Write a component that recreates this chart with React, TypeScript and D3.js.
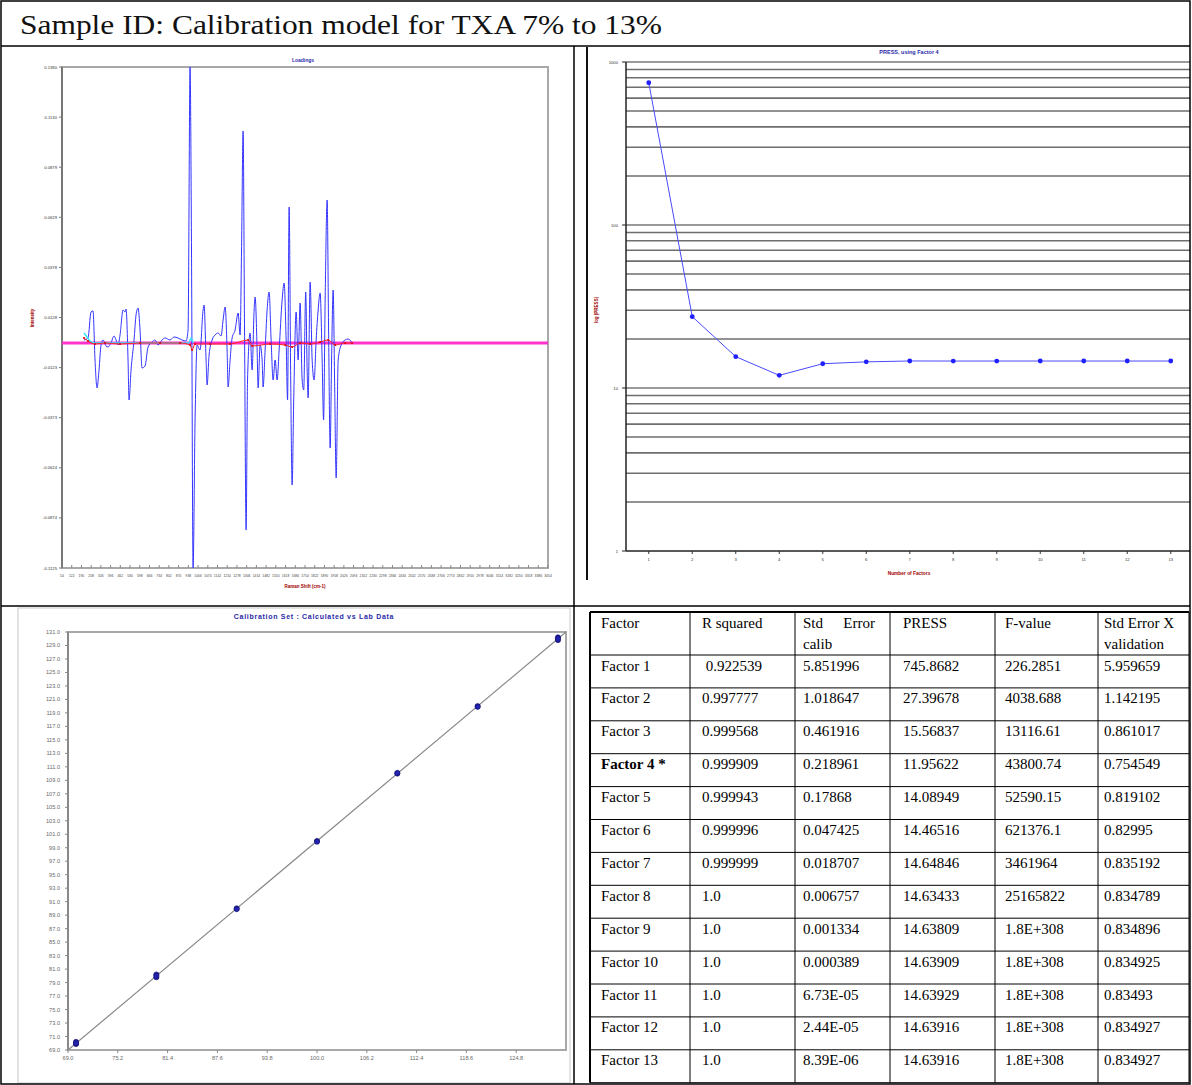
import React from 'react';
import * as d3 from 'd3';

const titleText = 'Sample ID: Calibration model for TXA 7% to 13%';

// ---------- Loadings (Raman shift, loading value) ----------
const blueLoading: [number, number][] = [
  [208,0.0015],[236,0.0025],[257,0.0155],[271,0.016],[285,-0.0085],[299,-0.0225],[313,-0.0135],[327,-0.001],[341,0.0015],[362,-0.0015],[376,-0.002],[397,0],[418,0.0035],[432,0.0015],[446,-0.001],[460,0.004],[481,0.0165],[495,0.0155],[502,0.017],[516,-0.0085],[523,-0.0285],[537,-0.0135],[558,0.0015],[572,0.014],[586,0.0175],[600,0.0065],[614,-0.0125],[635,-0.0115],[656,-0.002],[684,0.0005],[705,0.0015],[726,-0.001],[754,0.0015],[775,0.0025],[810,0.0015],[838,0.003],[866,0.0025],[894,0.0015],[922,0.001],[936,0.0065],[950,0.138],[960,0.0465],[971,-0.1125],[985,-0.0385],[999,-0.001],[1020,-0.0035],[1041,0.0165],[1048,0.019],[1062,-0.0085],[1069,-0.021],[1083,-0.006],[1104,0.0015],[1125,0.004],[1146,0.005],[1167,0.0035],[1181,0.0115],[1195,0.018],[1209,-0.0035],[1216,-0.022],[1230,-0.0085],[1244,0.0025],[1265,0.0065],[1286,0.015],[1300,0.004],[1310,0.0465],[1321,0.106],[1331,0.0065],[1342,-0.0935],[1352,-0.0185],[1370,0.005],[1384,-0.0135],[1398,0.0165],[1405,0.023],[1419,-0.0035],[1426,-0.0225],[1440,-0.001],[1454,-0.0085],[1461,-0.022],[1475,-0.0035],[1489,0.0165],[1503,0.0255],[1517,0.0015],[1531,-0.0185],[1545,-0.0085],[1559,-0.0185],[1573,-0.0035],[1594,0.0215],[1608,0.03],[1622,0.0015],[1632,-0.0285],[1643,0.068],[1654,-0.0185],[1664,-0.071],[1675,-0.0285],[1692,0.0155],[1706,-0.0085],[1720,0.02],[1734,-0.0185],[1745,-0.0235],[1759,0.0255],[1769,-0.0135],[1776,-0.0275],[1790,0.0305],[1804,-0.0085],[1818,-0.0185],[1832,0.0015],[1846,0.0165],[1860,0.025],[1874,-0.0085],[1884,-0.0385],[1895,0.0215],[1909,0.0715],[1919,0.0065],[1930,-0.0525],[1940,-0.0085],[1951,0.0265],[1961,-0.0185],[1972,-0.0675],[1986,-0.0085],[2007,-0.001],[2035,0.0015],[2056,0.002],[2084,0]
];
const redLoading: [number, number][] = [
  [208,0.0025],[236,0.001],[285,-0.0005],[355,0],[460,-0.0005],[600,0],[740,0],[880,0],[950,-0.001],[964,-0.0035],[985,-0.0005],[1090,-0.0005],[1230,-0.0005],[1356,0.0015],[1384,-0.0015],[1510,-0.0005],[1615,-0.001],[1664,-0.002],[1720,0],[1790,-0.0005],[1860,0.0005],[1916,0.0015],[1965,-0.001],[2035,0],[2084,0]
];
const cyanLoading: [number, number][] = [
  [208,0.005],[229,0.003],[250,0.001],[285,0],[940,0],[957,0.0025],[971,0]
];
const zeroLoading: [number, number][] = [[54,0],[3454,0]];
const ramanDomain: [number, number] = [54, 3454];
const loadingDomain: [number, number] = [-0.1125, 0.138];
const ramanTicks = d3.range(54, 3455, 68);

// ---------- PRESS ----------
const factorNumbers = d3.range(1, 14);
const pressValues = [745.8682, 27.39678, 15.56837, 11.95622, 14.08949, 14.46516, 14.64846, 14.63433, 14.63809, 14.63909, 14.63929, 14.63916, 14.63916];
const pressTickLabels = [1, 10, 100, 1000];

// ---------- Calibration ----------
const labValues = [70, 70, 70, 80, 80, 80, 90, 90, 100, 100, 110, 110, 120, 120, 130, 130, 130];
const calcValues = [69.9, 70.2, 70.0, 79.8, 80.2, 80.0, 90.0, 89.9, 100.0, 99.9, 110.0, 110.1, 120.0, 119.9, 129.8, 130.2, 130.0];
const calibDomain: [number, number] = [69, 131];
const calibYTicks = d3.range(69, 132, 2);
const calibXTicks = d3.range(0, 10).map(i => 69 + i * 6.2);

// ---------- Table ----------
const tableHeader1 = ['Factor', 'R squared', 'Std', 'PRESS', 'F-value', 'Std Error X'];
const tableHeader2 = ['', '', 'calib', '', '', 'validation'];
const tableRows: string[][] = [
  ['Factor 1', ' 0.922539', '5.851996', '745.8682', '226.2851', '5.959659'],
  ['Factor 2', '0.997777', '1.018647', '27.39678', '4038.688', '1.142195'],
  ['Factor 3', '0.999568', '0.461916', '15.56837', '13116.61', '0.861017'],
  ['Factor 4 *', '0.999909', '0.218961', '11.95622', '43800.74', '0.754549'],
  ['Factor 5', '0.999943', '0.17868', '14.08949', '52590.15', '0.819102'],
  ['Factor 6', '0.999996', '0.047425', '14.46516', '621376.1', '0.82995'],
  ['Factor 7', '0.999999', '0.018707', '14.64846', '3461964', '0.835192'],
  ['Factor 8', '1.0', '0.006757', '14.63433', '25165822', '0.834789'],
  ['Factor 9', '1.0', '0.001334', '14.63809', '1.8E+308', '0.834896'],
  ['Factor 10', '1.0', '0.000389', '14.63909', '1.8E+308', '0.834925'],
  ['Factor 11', '1.0', '6.73E-05', '14.63929', '1.8E+308', '0.83493'],
  ['Factor 12', '1.0', '2.44E-05', '14.63916', '1.8E+308', '0.834927'],
  ['Factor 13', '1.0', '8.39E-06', '14.63916', '1.8E+308', '0.834927'],
];

const SANS = 'Liberation Sans, Arial, sans-serif';
const SERIF = 'Liberation Serif, Times New Roman, serif';
const AXRED = '#a00000';
const TBLUE = '#2a2aa8';

function Loadings() {
  const L = 62, R = 548, T = 67, B = 568;
  const x = d3.scaleLinear().domain(ramanDomain).range([L, R]);
  const y = d3.scaleLinear().domain(loadingDomain).range([B, T]);
  const line = d3.line<[number, number]>().x(d => x(d[0])).y(d => y(d[1])).curve(d3.curveMonotoneX);
  const lin = d3.line<[number, number]>().x(d => x(d[0])).y(d => y(d[1]));
  const yTicks = d3.range(11).map(i => loadingDomain[1] - i * (loadingDomain[1] - loadingDomain[0]) / 10);
  return (
    <g>
      <defs>
        <clipPath id="clipL"><rect x={L} y={T - 1} width={R - L} height={B - T + 2} /></clipPath>
      </defs>
      <text x={303} y={62} fontSize={5} fontWeight="bold" fill={TBLUE} textAnchor="middle" fontFamily={SANS}>Loadings</text>
      <rect x={L} y={T} width={R - L} height={B - T} fill="#fff" stroke="#a8a8a8" strokeWidth={2} />
      <line x1={L} x2={L} y1={T} y2={B} stroke="#777" strokeWidth={2} />
      {yTicks.map((t, i) => (
        <g key={i}>
          <line x1={L - 3} x2={L} y1={y(t)} y2={y(t)} stroke="#777" />
          <text x={L - 5} y={y(t) + 1.5} fontSize={4.2} textAnchor="end" fill="#333" fontFamily={SANS}>{t.toFixed(4)}</text>
        </g>
      ))}
      {ramanTicks.map((t, i) => (
        <g key={i}>
          <line x1={x(t)} x2={x(t)} y1={B} y2={B - 3} stroke="#888" />
          <text x={x(t)} y={B + 9} fontSize={3.4} textAnchor="middle" fill="#444" fontFamily={SANS}>{t}</text>
        </g>
      ))}
      <g clipPath="url(#clipL)">
        <path d={lin(zeroLoading) || ''} stroke="#ff33cc" strokeWidth={3} fill="none" />
        <path d={line(blueLoading) || ''} stroke="#3434ff" strokeWidth={1} fill="none" />
        <path d={line(cyanLoading) || ''} stroke="#33e5ff" strokeWidth={1.5} fill="none" />
        <path d={line(redLoading) || ''} stroke="#ff2020" strokeWidth={1} fill="none" />
        {redLoading.map((d, i) => <circle key={i} cx={x(d[0])} cy={y(d[1])} r={1} fill="#e00000" />)}
      </g>
      <text transform={`translate(34,318) rotate(-90)`} fontSize={4.5} fontWeight="bold" fill={AXRED} textAnchor="middle" fontFamily={SANS}>Intensity</text>
      <text x={305} y={588} fontSize={4.5} fontWeight="bold" fill={AXRED} textAnchor="middle" fontFamily={SANS}>Raman Shift (cm-1)</text>
    </g>
  );
}

function Press() {
  const L = 626, R = 1190, T = 62, B = 551;
  const x = d3.scaleLinear().domain([0.5, 13.5]).range([627, 1192.5]);
  const y = d3.scaleLog().domain([1, 1000]).range([B, T]);
  const grid: number[] = [];
  [1, 10, 100].forEach(d => { for (let m = 1; m <= 9; m++) grid.push(m * d); });
  grid.push(1000);
  const pts = factorNumbers.map((f, i) => [f, pressValues[i]] as [number, number]);
  const line = d3.line<[number, number]>().x(d => x(d[0])).y(d => y(d[1]));
  return (
    <g>
      <line x1={587} x2={587} y1={47} y2={580} stroke="#111" strokeWidth={2} />
      <text x={909} y={54} fontSize={5.5} fontWeight="bold" fill={TBLUE} textAnchor="middle" fontFamily={SANS}>PRESS, using Factor 4</text>
      {grid.filter(g => g > 1).map((g, i) => (
        <line key={i} x1={L} x2={R} y1={y(g)} y2={y(g)} stroke={g === 10 || g === 100 || g === 1000 ? '#9a9a9a' : '#6e6e6e'} strokeWidth={g === 10 || g === 100 || g === 1000 ? 2.2 : 1.6} />
      ))}
      <line x1={L} x2={L} y1={T} y2={B} stroke="#222" strokeWidth={1.5} />
      <line x1={L} x2={R} y1={B} y2={B} stroke="#222" strokeWidth={1.5} />
      {pressTickLabels.map((t, i) => (
        <g key={i}>
          <line x1={L - 4} x2={L} y1={y(t)} y2={y(t)} stroke="#222" />
          <text x={L - 8} y={y(t) + 1.5} fontSize={4.2} textAnchor="end" fill="#333" fontFamily={SANS}>{t}</text>
        </g>
      ))}
      {factorNumbers.map(f => (
        <g key={f}>
          <line x1={x(f)} x2={x(f)} y1={B} y2={B + 3} stroke="#333" />
          <text x={x(f)} y={B + 10} fontSize={4.2} textAnchor="middle" fill="#333" fontFamily={SANS}>{f}</text>
        </g>
      ))}
      <path d={line(pts) || ''} stroke="#4a4aff" strokeWidth={1} fill="none" />
      {pts.map((d, i) => <circle key={i} cx={x(d[0])} cy={y(d[1])} r={2.4} fill="#1f1fff" />)}
      <text transform={`translate(598,310) rotate(-90)`} fontSize={4.5} fontWeight="bold" fill={AXRED} textAnchor="middle" fontFamily={SANS}>log (PRESS)</text>
      <text x={909} y={575} fontSize={4.8} fontWeight="bold" fill={AXRED} textAnchor="middle" fontFamily={SANS}>Number of Factors</text>
    </g>
  );
}

function Calibration() {
  const L = 68, R = 566, T = 632, B = 1050;
  const x = d3.scaleLinear().domain(calibDomain).range([L, R]);
  const y = d3.scaleLinear().domain(calibDomain).range([B, T]);
  return (
    <g>
      <rect x={18} y={608} width={552} height={475} fill="#fff" stroke="#c8c8c8" strokeWidth={1} />
      <text x={314} y={619} fontSize={7} fontWeight="bold" fill={TBLUE} textAnchor="middle" letterSpacing={0.7} fontFamily={SANS}>Calibration Set : Calculated vs Lab Data</text>
      <rect x={L} y={T} width={R - L} height={B - T} fill="#fff" stroke="#a8a8a8" strokeWidth={2} />
      <line x1={L} x2={L} y1={T} y2={B} stroke="#888" strokeWidth={2} />
      {calibYTicks.map((t, i) => (
        <g key={i}>
          <line x1={L - 3} x2={L} y1={y(t)} y2={y(t)} stroke="#888" />
          <text x={L - 8} y={y(t) + 2} fontSize={5.6} textAnchor="end" fill="#6a6a6a" fontFamily={SANS}>{t.toFixed(1)}</text>
        </g>
      ))}
      {calibXTicks.map((t, i) => (
        <g key={i}>
          <line x1={x(t)} x2={x(t)} y1={B} y2={B + 3} stroke="#888" />
          <text x={x(t)} y={B + 10} fontSize={5.6} textAnchor="middle" fill="#6a6a6a" fontFamily={SANS}>{t.toFixed(1)}</text>
        </g>
      ))}
      <line x1={x(calibDomain[0])} y1={y(calibDomain[0])} x2={x(calibDomain[1])} y2={y(calibDomain[1])} stroke="#8a8a8a" strokeWidth={1.2} />
      {labValues.map((v, i) => (
        <circle key={i} cx={x(v)} cy={y(calcValues[i])} r={2.6} fill="#2323b0" stroke="#10106a" strokeWidth={0.6} />
      ))}
    </g>
  );
}

function Table() {
  const colLines = [590, 690, 795, 890, 995, 1098, 1189];
  const textX = [601, 702, 803, 903, 1005, 1104];
  const top = 612, headBottom = 655, rowH = 32.9;
  const rowLines = d3.range(tableRows.length + 1).map(i => headBottom + i * rowH);
  const bottom = rowLines[rowLines.length - 1];
  const fs = 15;
  return (
    <g fontFamily={SERIF} fontSize={fs} fill="#000">
      <line x1={colLines[0]} x2={colLines[6]} y1={top} y2={top} stroke="#000" strokeWidth={2} />
      <line x1={colLines[0]} x2={colLines[0]} y1={top} y2={bottom} stroke="#000" strokeWidth={2} />
      {colLines.slice(1).map((cx, i) => <line key={i} x1={cx} x2={cx} y1={top} y2={bottom} stroke="#000" strokeWidth={1} />)}
      {rowLines.map((ry, i) => <line key={i} x1={colLines[0]} x2={colLines[6]} y1={ry} y2={ry} stroke="#000" strokeWidth={1} />)}
      {tableHeader1.map((h, i) => (
        <text key={i} x={textX[i]} y={628}>{h}</text>
      ))}
      <text x={875} y={628} textAnchor="end">Error</text>
      {tableHeader2.map((h, i) => h ? <text key={i} x={textX[i]} y={649}>{h}</text> : null)}
      {tableRows.map((row, r) => (
        <g key={r}>
          {row.map((c, ci) => (
            <text key={ci} x={textX[ci]} y={rowLines[r] + 15.5} fontWeight={ci === 0 && c.includes('*') ? 'bold' : 'normal'} style={{ whiteSpace: 'pre' }}>{c}</text>
          ))}
        </g>
      ))}
    </g>
  );
}

export default function App() {
  return (
    <div style={{ position: 'absolute', left: 0, top: 0 }}>
      <svg width={1192} height={1085} viewBox="0 0 1192 1085" style={{ display: 'block', background: '#fff' }}>
        <rect x={0} y={0} width={1192} height={1085} fill="#fff" />
        <text x={20} y={34} fontFamily={SERIF} fontSize={28} fill="#111" textLength={642} lengthAdjust="spacingAndGlyphs">{titleText}</text>
        <Loadings />
        <Press />
        <Calibration />
        <Table />
        <rect x={1} y={1} width={1189} height={1083} fill="none" stroke="#000" strokeWidth={1.5} />
        <line x1={1} x2={1190} y1={46} y2={46} stroke="#000" strokeWidth={1.5} />
        <line x1={574} x2={574} y1={46} y2={1084} stroke="#000" strokeWidth={1.5} />
        <line x1={1} x2={1190} y1={606} y2={606} stroke="#000" strokeWidth={1.5} />
      </svg>
    </div>
  );
}
